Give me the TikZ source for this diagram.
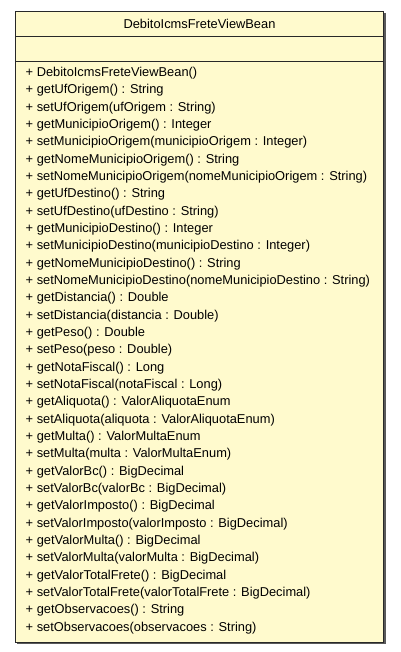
\documentclass[tikz,border=0pt]{standalone}
\usepackage{fontspec}
\setmainfont{Liberation Sans}
\definecolor{classfill}{RGB}{255,250,205}
\definecolor{classline}{RGB}{40,40,40}
\definecolor{shadowgray}{RGB}{90,90,90}
\begin{document}
\begin{tikzpicture}[x=1pt,y=-1pt,
  member/.style={anchor=west,inner sep=0pt,font=\fontsize{12.85}{14}\selectfont,text=black},
  title/.style={inner sep=0pt,font=\fontsize{12.85}{14}\selectfont,text=black}]
\useasboundingbox (0,0) rectangle (400,652);
% drop shadow along the right and bottom edges
\fill[shadowgray] (17,13) rectangle (385.5,644);
% class box
\draw[fill=classfill,draw=classline,line width=1pt] (15.5,11.5) rectangle (383.5,642);
\draw[classline,line width=1.6pt] (15.5,36.5) -- (383.5,36.5);
\draw[classline,line width=1.6pt] (15.5,61.5) -- (383.5,61.5);
\node[title] (name) at (199.5,23.5) {DebitoIcmsFreteViewBean};
% operations compartment
\foreach \t [count=\i from 0] in {
  {+ DebitoIcmsFreteViewBean()},
  {+ getUfOrigem() : String},
  {+ setUfOrigem(ufOrigem : String)},
  {+ getMunicipioOrigem() : Integer},
  {+ setMunicipioOrigem(municipioOrigem : Integer)},
  {+ getNomeMunicipioOrigem() : String},
  {+ setNomeMunicipioOrigem(nomeMunicipioOrigem : String)},
  {+ getUfDestino() : String},
  {+ setUfDestino(ufDestino : String)},
  {+ getMunicipioDestino() : Integer},
  {+ setMunicipioDestino(municipioDestino : Integer)},
  {+ getNomeMunicipioDestino() : String},
  {+ setNomeMunicipioDestino(nomeMunicipioDestino : String)},
  {+ getDistancia() : Double},
  {+ setDistancia(distancia : Double)},
  {+ getPeso() : Double},
  {+ setPeso(peso : Double)},
  {+ getNotaFiscal() : Long},
  {+ setNotaFiscal(notaFiscal : Long)},
  {+ getAliquota() : ValorAliquotaEnum},
  {+ setAliquota(aliquota : ValorAliquotaEnum)},
  {+ getMulta() : ValorMultaEnum},
  {+ setMulta(multa : ValorMultaEnum)},
  {+ getValorBc() : BigDecimal},
  {+ setValorBc(valorBc : BigDecimal)},
  {+ getValorImposto() : BigDecimal},
  {+ setValorImposto(valorImposto : BigDecimal)},
  {+ getValorMulta() : BigDecimal},
  {+ setValorMulta(valorMulta : BigDecimal)},
  {+ getValorTotalFrete() : BigDecimal},
  {+ setValorTotalFrete(valorTotalFrete : BigDecimal)},
  {+ getObservacoes() : String},
  {+ setObservacoes(observacoes : String)}}
  \node[member] (op\i) at (25.5,73+17.34*\i) {\t};
\end{tikzpicture}
\end{document}
